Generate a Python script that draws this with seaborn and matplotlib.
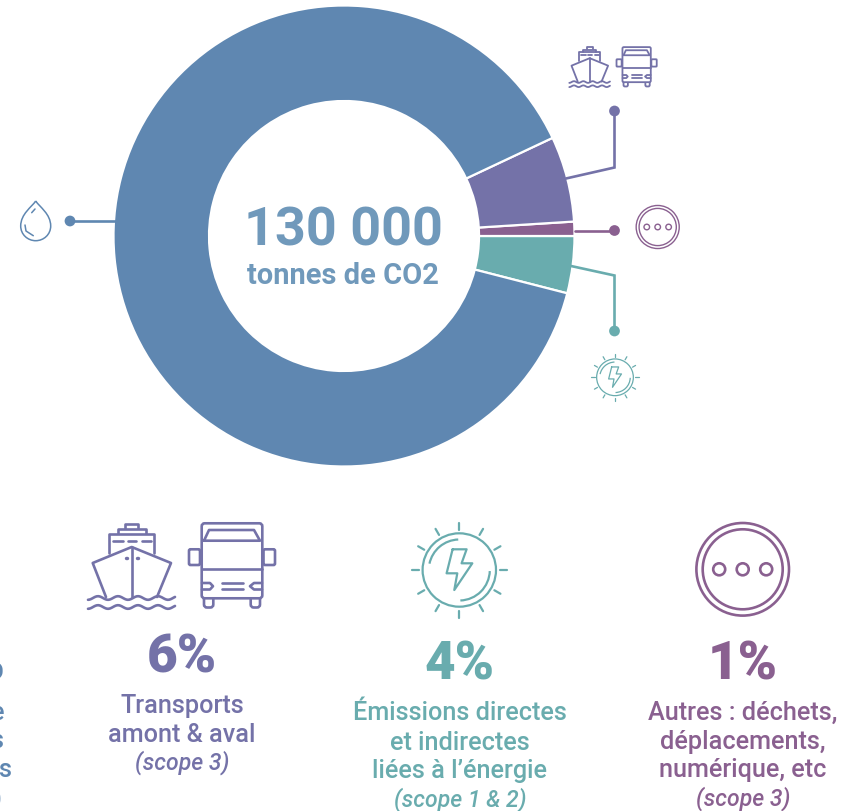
import numpy as np
import seaborn as sns
import matplotlib
matplotlib.use("Agg")
import matplotlib.pyplot as plt
from matplotlib.patches import Circle, Arc, PathPatch, FancyBboxPatch
from matplotlib.path import Path

W, H = 858, 811

#--------------------------------------------------------
# Data
#--------------------------------------------------------

# counter clockwise from the start angle: energy, others, transport, rest
shares = [4, 1, 6, 89]
colors = ["#69acae", "#8a6090", "#7472a8", "#5f87b1"]
total_value = "130 000"
total_unit = "tonnes de CO2"

transport_lines = ["Transports", "amont & aval"]
energy_lines = ["Émissions directes", "et indirectes", "liées à l’énergie"]
other_lines = ["Autres : déchets,", "déplacements,", "numérique, etc"]
transport_scope = "(scope 3)"
energy_scope = "(scope 1 & 2)"
other_scope = "(scope 3)"

# only the ends of these lines are inside the picture
cropped_lines = ["e", "s", "s", ")"]

sns.set_theme(style="white")
plt.rcParams["font.family"] = ["Roboto", "DejaVu Sans"]
palette = sns.color_palette(colors)
teal, maroon, purple, blue = colors
center_color = "#7099bb"

fig = plt.figure(figsize=(W / 100, H / 100), dpi=100)
ax = fig.add_axes([0, 0, 1, 1])


def fy(y):
    # the reference is measured from the top
    return H - y


def fs(px):
    return px * 0.72


#--------------------------------------------------------
# Donut
#--------------------------------------------------------

cx, cy = 344, 236
R_out, R_in = 230.5, 135
start = -14.4

ax.pie(shares, colors=palette, startangle=start, center=(cx, fy(cy)), radius=R_out,
       wedgeprops=dict(width=R_out - R_in, edgecolor="white", linewidth=1.6))
ax.set_xlim(0, W)
ax.set_ylim(0, H)
ax.set_aspect("equal")
ax.axis("off")

ax.text(343, fy(245), total_value, color=center_color, fontsize=fs(54), fontweight="bold",
        ha="center", va="baseline")
ax.text(343, fy(284), total_unit, color=center_color, fontsize=fs(29), fontweight="bold",
        ha="center", va="baseline")

#--------------------------------------------------------
# Leaders
#--------------------------------------------------------

dot_x = [70, 614.5, 614.5, 614.5]
dot_y = [221, 111, 230.5, 331]
dot_colors = [blue, purple, maroon, teal]

ax.plot([70, 116], [fy(221)] * 2, color=blue, lw=1.9)
ax.plot([614.5, 614.5, 566], [fy(111), fy(167.5), fy(178.5)], color=purple, lw=1.9, solid_joinstyle="miter")
ax.plot([614.5, 574.5], [fy(230.5)] * 2, color=maroon, lw=1.9)
ax.plot([614.5, 614.5, 571], [fy(331), fy(275.5), fy(266)], color=teal, lw=1.9, solid_joinstyle="miter")

sns.scatterplot(x=dot_x, y=[fy(v) for v in dot_y], hue=dot_colors, palette={c: c for c in dot_colors},
                s=60, linewidth=0, legend=False, ax=ax, zorder=4)

#--------------------------------------------------------
# Icons, drawn in the coordinates of the big version
#--------------------------------------------------------


def line(pts, color, lw, ox=0, oy=0, k=1.0):
    pts = np.array(pts, dtype=float)
    ax.plot(ox + pts[:, 0] * k, fy(oy + pts[:, 1] * k), color=color, lw=lw,
            solid_capstyle="round", solid_joinstyle="round", zorder=3)


def rbox(x0, y0, x1, y1, r, color, lw, ox=0, oy=0, k=1.0):
    ax.add_patch(FancyBboxPatch((ox + x0 * k, fy(oy + y1 * k)), (x1 - x0) * k, (y1 - y0) * k,
                                boxstyle=f"round,pad=0,rounding_size={r * k}",
                                fc="white", ec=color, lw=lw, zorder=3))


def transport_icon(ox, oy, k, lw):
    c = purple
    kw = dict(ox=ox, oy=oy, k=k)
    # ship
    line([(125, 528), (125, 523.5), (138, 523.5), (138, 528)], c, lw, **kw)
    line([(117.7, 533), (117.7, 529), (145.7, 529), (145.7, 533)], c, lw, **kw)
    line([(109.3, 553), (109.3, 534.3), (154.3, 534.3), (154.3, 553)], c, lw, **kw)
    for x0, x1 in [(113, 123), (128, 136), (142, 151)]:
        line([(x0, 541), (x1, 541)], c, lw, **kw)
    line([(106, 597), (92.7, 563), (131.7, 547), (171, 563), (157, 597)], c, lw, **kw)
    line([(131.7, 547), (131.7, 597)], c, lw, **kw)
    for x0 in [126, 137]:
        line([(x0 - 0.5, 558), (x0 + 0.5, 558)], c, lw * 1.3, **kw)
    xs = np.linspace(88, 175, 60)
    for y0 in [598, 607]:
        line(np.column_stack([xs, y0 + 1.8 * np.cos((xs - 88) / 20 * 2 * np.pi)]), c, lw, **kw)
    # bus
    rbox(189, 549.3, 200, 565, 1.5, c, lw, **kw)
    rbox(263.5, 549.3, 275, 565, 1.5, c, lw, **kw)
    rbox(204, 590, 213.3, 607.5, 3, c, lw, **kw)
    rbox(250.7, 590, 260, 607.5, 3, c, lw, **kw)
    rbox(201.7, 523.3, 262.3, 598.3, 3, c, lw, **kw)
    line([(204, 540.7), (209, 530), (254, 530), (260, 540.7), (204, 540.7)], c, lw, **kw)
    line([(202, 569), (262, 569)], c, lw, **kw)
    line([(202, 583), (210, 583), (213, 586.2), (210, 589.5), (202, 589.5)], c, lw, **kw)
    line([(262, 583), (254, 583), (250, 586.2), (254, 589.5), (262, 589.5)], c, lw, **kw)
    for y0 in [583.3, 588.7]:
        line([(221.7, y0), (242.7, y0)], c, lw, **kw)


def energy_icon(x0, y0, k, lw):
    c = teal
    ax.add_patch(Circle((x0, fy(y0)), 36.7 * k, fc="none", ec=c, lw=lw, zorder=3))
    d = 61 * k
    ax.add_patch(Arc((x0, fy(y0)), d, d, theta1=92, theta2=168, ec=c, lw=lw, zorder=3))
    ax.add_patch(Arc((x0, fy(y0)), d, d, theta1=272, theta2=358, ec=c, lw=lw, zorder=3))
    for a in np.deg2rad(np.arange(0, 360, 30)):
        line([(np.cos(a) * 40.5, np.sin(a) * 40.5), (np.cos(a) * 47.5, np.sin(a) * 47.5)], c, lw,
             ox=x0, oy=y0, k=k)
    bolt = [(-6.7, -20.7), (7.3, -20.7), (2.3, -6.7), (13, -6.7), (-5, 20), (-2, 3.3), (-12.7, 3.3), (-6.7, -20.7)]
    line(bolt, c, lw, ox=x0, oy=y0, k=k)


def other_icon(x0, y0, k, lw):
    c = maroon
    ax.add_patch(Circle((x0, fy(y0)), 46.3 * k, fc="none", ec=c, lw=lw, zorder=3))
    ax.add_patch(Circle((x0, fy(y0)), 40 * k, fc="none", ec=c, lw=lw, zorder=3))
    for dx in [-23.5, 0, 23.5]:
        ax.add_patch(Circle((x0 + dx * k, fy(y0)), 6 * k, fc="none", ec=c, lw=lw, zorder=3))


def drop_icon():
    c = blue
    x0, y_top = 35.7, 201
    pts = [(x0, y_top), (x0 + 4, 207), (x0 + 15, 214), (x0 + 15, 226),
           (x0 + 15, 234.5), (x0 + 8, 240.7), (x0, 240.7),
           (x0 - 8, 240.7), (x0 - 15, 234.5), (x0 - 15, 226),
           (x0 - 15, 214), (x0 - 4, 207), (x0, y_top)]
    codes = [Path.MOVETO] + [Path.CURVE4] * 12
    ax.add_patch(PathPatch(Path([(p, fy(q)) for p, q in pts], codes), fc="none", ec=c, lw=1.1, zorder=3))
    line([(25, 225), (26, 231), (33.3, 235.7)], c, 1.1)
    line([(31.7, 212.7), (35, 209)], c, 1.1)


transport_icon(569.3 - 88 * 0.4675, 46.5 - 522 * 0.4675, 0.4675, 1.3)
transport_icon(0, 0, 1.0, 1.9)
energy_icon(615, 377.3, 0.5, 0.9)
energy_icon(459.3, 570, 1.0, 1.6)
other_icon(657.7, 227, 0.465, 1.0)
other_icon(742.7, 569.3, 1.0, 1.9)
drop_icon()

#--------------------------------------------------------
# Columns under the donut
#--------------------------------------------------------

pct_size = fs(53)
pct_weight = "black"
body_size = fs(25.2)
scope_size = fs(23)


def column(x, pct, pct_y, lines, scope, line_y, color):
    ax.text(x, fy(pct_y), f"{pct}%", color=color, fontsize=pct_size, fontweight=pct_weight,
            ha="center", va="baseline")
    for txt, y in zip(lines, line_y):
        ax.text(x, fy(y), txt, color=color, fontsize=body_size, fontweight="medium",
                ha="center", va="baseline")
    ax.text(x, fy(line_y[-1]), scope, color=color, fontsize=scope_size, fontstyle="italic", fontweight="medium",
            ha="center", va="baseline")


column(182, shares[2], 672.5, transport_lines, transport_scope, [713, 741.5, 770], purple)
column(460, shares[0], 680, energy_lines, energy_scope, [720, 749.5, 778, 806.5], teal)
column(743, shares[1], 680, other_lines, other_scope, [720, 748.5, 777, 806], maroon)

# left column runs off the picture
ax.text(5.5, fy(680), f"{shares[3]}%", color=blue, fontsize=pct_size, fontweight=pct_weight, ha="right", va="baseline")
for txt, x, y in zip(cropped_lines, [4.5, 3.5, 11.5, 1.5], [720, 748.5, 777, 806]):
    ax.text(x, fy(y), txt, color=blue, fontsize=body_size, fontweight="medium", ha="right", va="baseline")

fig.savefig("out.png", dpi=100, facecolor="white")
